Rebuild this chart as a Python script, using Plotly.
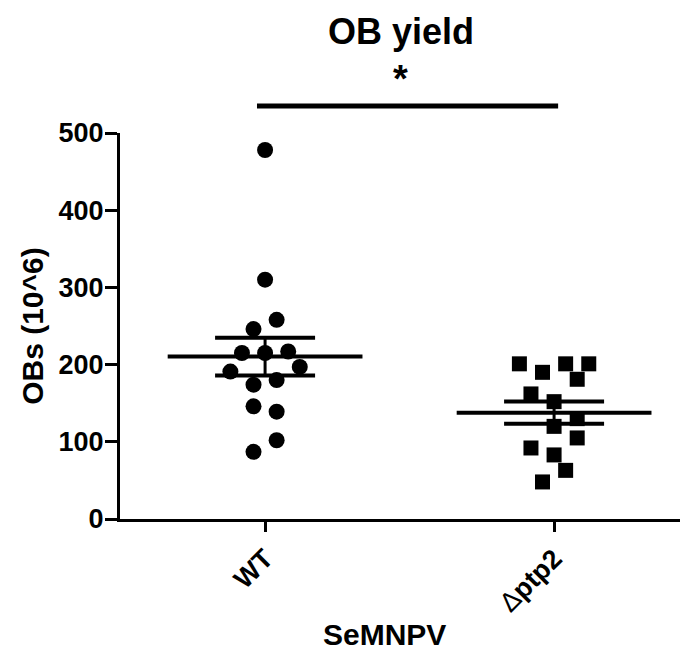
import numpy as np
import plotly.graph_objects as go

# ---------------- data ----------------
categories = ["WT", "Δptp2"]
tick_labels = ["<b>WT</b>", "Δ<b>ptp2</b>"]
wt_values = [478, 310, 258, 246, 215, 215, 217, 197, 191, 174, 180, 146, 139, 102, 87]
ptp2_values = [201, 190, 201, 201, 181, 162, 152, 130, 120, 105, 92, 83, 63, 48]
y_ticks = [0, 100, 200, 300, 400, 500]
title_text = "OB yield"
x_title = "SeMNPV"
y_title = "OBs (10^6)"
sig_text = "*"

# ---------------- layout helpers (swarm slots, not data) ----------------
wt_slots = [0, 0, 1, -1, -2, 0, 2, 3, -3, -1, 1, -1, 1, 1, -1]
ptp2_slots = [-3, -1, 1, 3, 2, -2, 0, 2, 0, 2, -2, 0, 1, -1]
slot_w = 0.040
mean_half = 0.337
sem_half = 0.173
x_range = [-0.502, 1.453]
y_range = [0, 500]

FONT = "Liberation Sans, Arial, sans-serif"

fig = go.Figure()

groups = [(wt_values, wt_slots, "circle", 16), (ptp2_values, ptp2_slots, "square", 15)]
for i, (vals, slots, sym, sz) in enumerate(groups):
    xs = [i + s * slot_w for s in slots]
    fig.add_trace(go.Scatter(x=xs, y=vals, mode="markers",
                             marker=dict(symbol=sym, size=sz, color="black", line=dict(width=0)),
                             showlegend=False, hoverinfo="y"))
    arr = np.array(vals, dtype=float)
    m = arr.mean()
    sem = arr.std(ddof=1) / np.sqrt(len(arr))
    lw = dict(color="black", width=4)
    fig.add_trace(go.Scatter(x=[i - mean_half, i + mean_half], y=[m, m], mode="lines",
                             line=lw, showlegend=False, hoverinfo="skip"))
    for yy in (m - sem, m + sem):
        fig.add_trace(go.Scatter(x=[i - sem_half, i + sem_half], y=[yy, yy], mode="lines",
                                 line=lw, showlegend=False, hoverinfo="skip"))
    fig.add_trace(go.Scatter(x=[i, i], y=[m - sem, m + sem], mode="lines",
                             line=dict(color="black", width=3), showlegend=False, hoverinfo="skip"))

# significance bar (paper coords derived from data axis range)
def xp(v):
    return (v - x_range[0]) / (x_range[1] - x_range[0])

fig.add_shape(type="line", xref="paper", yref="paper",
              x0=xp(-0.028), x1=xp(1.014), y0=1.07, y1=1.07,
              line=dict(color="black", width=5))
fig.add_annotation(text=sig_text, xref="paper", yref="paper", x=xp(0.47), y=1.14,
                   showarrow=False, font=dict(family=FONT, size=38, color="black", weight="bold"),
                   xanchor="center", yanchor="middle")
fig.add_annotation(text=title_text, xref="paper", yref="paper", x=xp(0.472), y=1.262,
                   showarrow=False, font=dict(family=FONT, size=36, color="black", weight="bold"),
                   xanchor="center", yanchor="middle")
fig.add_annotation(text=x_title, xref="paper", yref="paper", x=0.469, y=-0.298,
                   showarrow=False, font=dict(family=FONT, size=30, color="black", weight="bold"),
                   xanchor="center", yanchor="middle")
fig.add_annotation(text=y_title, xref="paper", yref="paper", x=-0.156, y=0.50,
                   showarrow=False, textangle=-90,
                   font=dict(family=FONT, size=30, color="black", weight="bold"),
                   xanchor="center", yanchor="middle")

fig.update_layout(
    width=680, height=642,
    margin=dict(l=112, r=3, t=125, b=131),
    plot_bgcolor="white", paper_bgcolor="white",
    font=dict(family=FONT, color="black"),
    xaxis=dict(range=x_range, tickmode="array", tickvals=[0, 1], ticktext=tick_labels,
               tickangle=-45, ticks="outside", ticklen=10, tickwidth=3, tickcolor="black",
               showline=True, linewidth=3, linecolor="black", showgrid=False, zeroline=False,
               tickfont=dict(family=FONT, size=27, color="black")),
    yaxis=dict(range=y_range, tickmode="array", tickvals=y_ticks,
               ticktext=[f"<b>{t}</b>" for t in y_ticks],
               ticks="outside", ticklen=12, tickwidth=3, tickcolor="black",
               ticklabelstandoff=-4,
               showline=True, linewidth=3, linecolor="black", showgrid=False, zeroline=False,
               tickfont=dict(family=FONT, size=27, color="black")),
)

fig.write_html("out.html")
